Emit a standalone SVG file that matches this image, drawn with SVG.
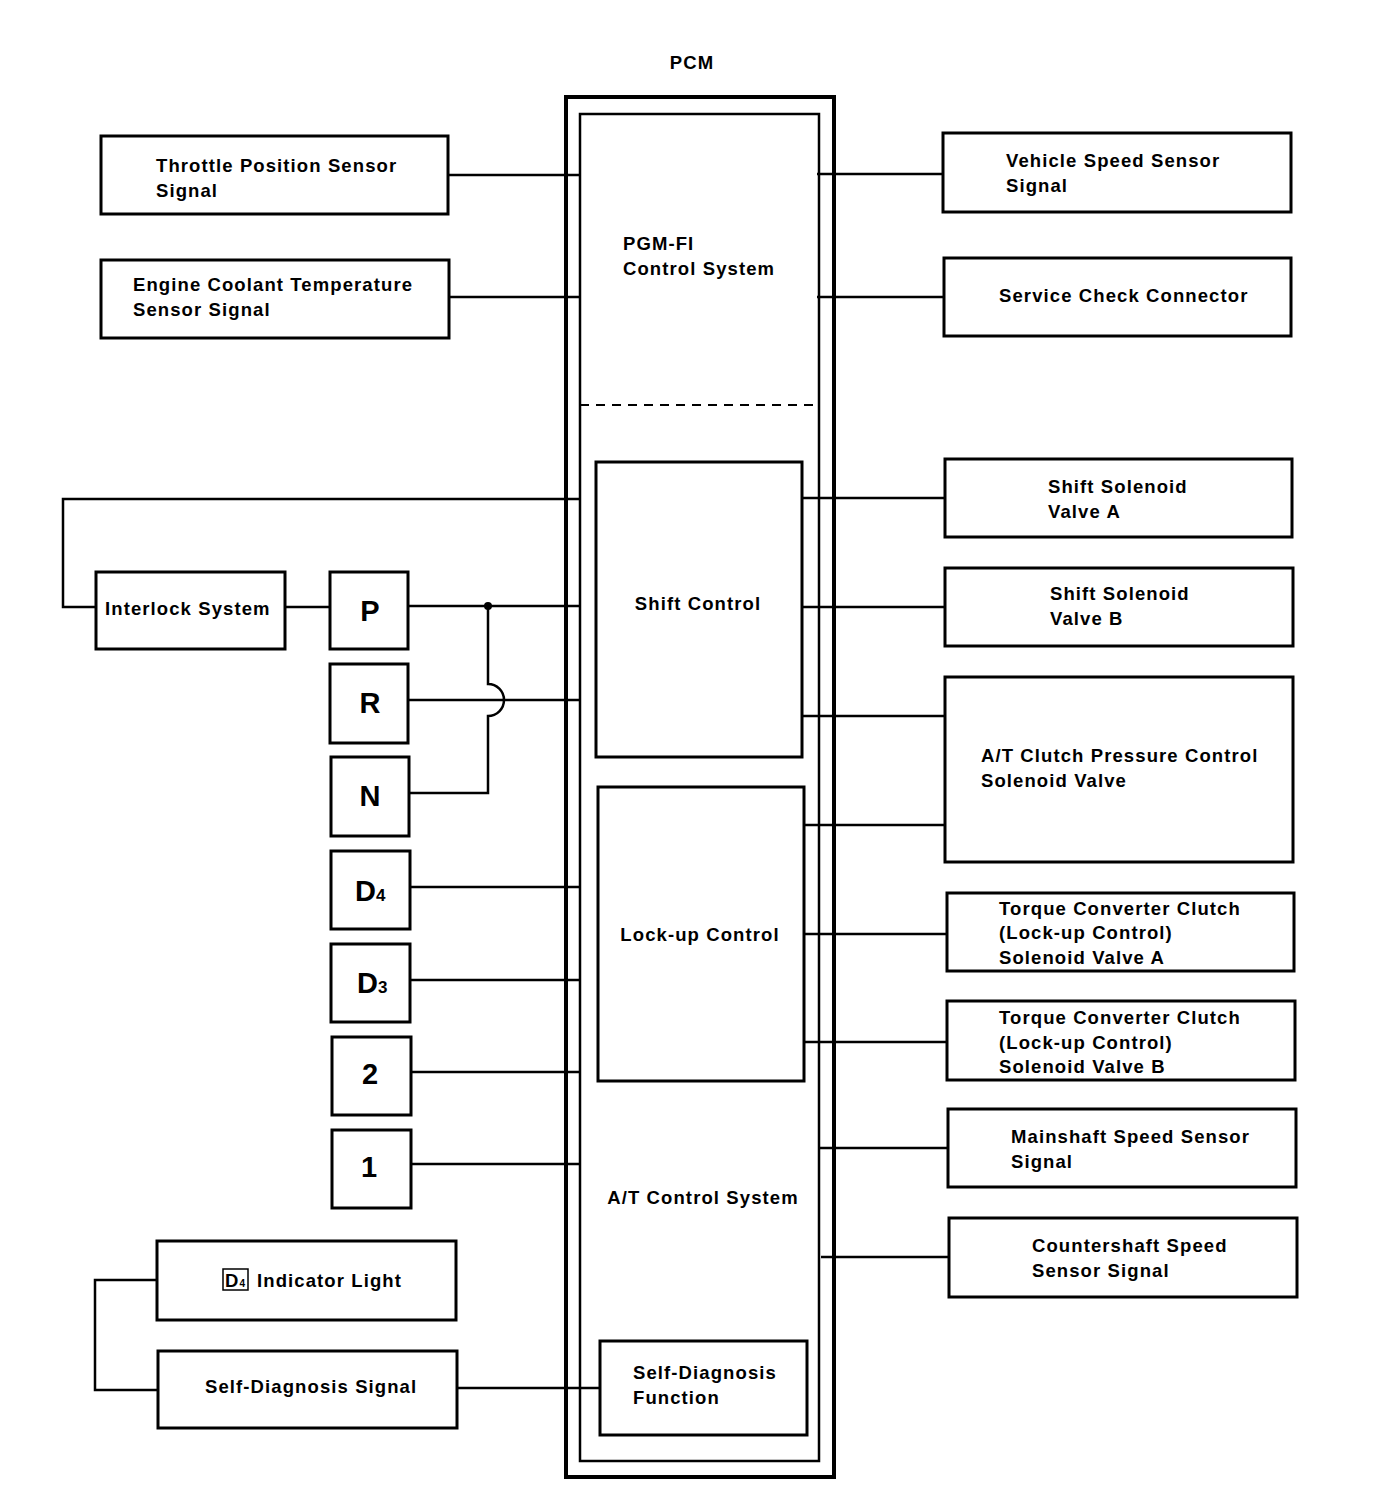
<svg xmlns="http://www.w3.org/2000/svg" width="1376" height="1510" viewBox="0 0 1376 1510">
<style>
.box{fill:#fff;stroke:#000;stroke-width:3}
.in{fill:none;stroke:#000;stroke-width:2.5}
.ln{fill:none;stroke:#000;stroke-width:2.5}
text{font-family:"Liberation Sans",Arial,sans-serif;font-weight:bold;font-size:18.5px;letter-spacing:1.1px;fill:#000}
.big{font-size:29px;letter-spacing:0}
.mid{text-anchor:middle}
</style>
<rect width="1376" height="1510" fill="#fff"/>
<g id="pcm">
<rect x="566" y="97" width="268" height="1380" fill="#fff" stroke="#000" stroke-width="4"/>
<rect x="580" y="114" width="239" height="1347" class="in"/>
<line x1="580" y1="405" x2="816" y2="405" stroke="#000" stroke-width="2" stroke-dasharray="9,7"/>
<text x="692" y="69" class="mid">PCM</text>
<text x="623" y="250">PGM-FI</text>
<text x="623" y="275">Control System</text>
<text x="703" y="1204" class="mid">A/T Control System</text>
</g>
<g id="shift-control"><rect x="596" y="462" width="206" height="295" class="box"/><text x="698" y="610" class="mid">Shift Control</text></g>
<g id="lockup-control"><rect x="598" y="787" width="206" height="294" class="box"/><text x="700" y="941" class="mid">Lock-up Control</text></g>
<g id="self-diag-func"><rect x="600" y="1341" width="207" height="94" class="box"/><text x="633" y="1379">Self-Diagnosis</text><text x="633" y="1404">Function</text></g>

<g id="connectors">
<path class="ln" d="M448 175H580M449 297H580M285 607H330M96 607H63V499H580"/>
<path class="ln" d="M408 606H580M488 606V684A16 16 0 0 1 488 716V793H409M408 700H580"/>
<path class="ln" d="M410 887H580M410 980H580M411 1072H580M411 1164H580"/>
<path class="ln" d="M157 1280H95V1390H158M457 1388H600"/>
<path class="ln" d="M817 174H943M817 297H944M802 498H945M802 607H945M803 716H945M804 825H945M804 934H947M804 1042H947M819 1148H948M821 1257H949"/>
<circle cx="488" cy="606" r="4"/>
</g>

<g id="tps"><rect x="101" y="136" width="347" height="78" class="box"/><text x="156" y="172">Throttle Position Sensor</text><text x="156" y="197">Signal</text></g>
<g id="ect"><rect x="101" y="260" width="348" height="78" class="box"/><text x="133" y="291">Engine Coolant Temperature</text><text x="133" y="316">Sensor Signal</text></g>
<g id="interlock"><rect x="96" y="572" width="189" height="77" class="box"/><text x="105" y="615">Interlock System</text></g>
<g id="sw-p"><rect x="330" y="572" width="78" height="77" class="box"/><text x="370" y="621" class="big mid">P</text></g>
<g id="sw-r"><rect x="330" y="664" width="78" height="79" class="box"/><text x="370" y="713" class="big mid">R</text></g>
<g id="sw-n"><rect x="331" y="757" width="78" height="79" class="box"/><text x="370" y="806" class="big mid">N</text></g>
<g id="sw-d4"><rect x="331" y="851" width="79" height="78" class="box"/><text x="355" y="901" class="big">D<tspan font-size="17">4</tspan></text></g>
<g id="sw-d3"><rect x="331" y="944" width="79" height="78" class="box"/><text x="357" y="993" class="big">D<tspan font-size="17">3</tspan></text></g>
<g id="sw-2"><rect x="332" y="1037" width="79" height="78" class="box"/><text x="370" y="1084" class="big mid">2</text></g>
<g id="sw-1"><rect x="332" y="1130" width="79" height="78" class="box"/><text x="369" y="1177" class="big mid">1</text></g>
<g id="d4-light"><rect x="157" y="1241" width="299" height="79" class="box"/><rect x="223" y="1269" width="25" height="21" fill="none" stroke="#000" stroke-width="1.5"/><text x="225" y="1287" font-size="17" letter-spacing="0">D<tspan font-size="10">4</tspan></text><text x="257" y="1287">Indicator Light</text></g>
<g id="self-diag-signal"><rect x="158" y="1351" width="299" height="77" class="box"/><text x="205" y="1393">Self-Diagnosis Signal</text></g>

<g id="vss"><rect x="943" y="133" width="348" height="79" class="box"/><text x="1006" y="167">Vehicle Speed Sensor</text><text x="1006" y="192">Signal</text></g>
<g id="scc"><rect x="944" y="258" width="347" height="78" class="box"/><text x="999" y="302">Service Check Connector</text></g>
<g id="ssa"><rect x="945" y="459" width="347" height="78" class="box"/><text x="1048" y="493">Shift Solenoid</text><text x="1048" y="518">Valve A</text></g>
<g id="ssb"><rect x="945" y="568" width="348" height="78" class="box"/><text x="1050" y="600">Shift Solenoid</text><text x="1050" y="625">Valve B</text></g>
<g id="atcp"><rect x="945" y="677" width="348" height="185" class="box"/><text x="981" y="762">A/T Clutch Pressure Control</text><text x="981" y="787">Solenoid Valve</text></g>
<g id="tcca"><rect x="947" y="893" width="347" height="78" class="box"/><text x="999" y="915">Torque Converter Clutch</text><text x="999" y="939">(Lock-up Control)</text><text x="999" y="964">Solenoid Valve A</text></g>
<g id="tccb"><rect x="947" y="1001" width="348" height="79" class="box"/><text x="999" y="1024">Torque Converter Clutch</text><text x="999" y="1049">(Lock-up Control)</text><text x="999" y="1073">Solenoid Valve B</text></g>
<g id="mss"><rect x="948" y="1109" width="348" height="78" class="box"/><text x="1011" y="1143">Mainshaft Speed Sensor</text><text x="1011" y="1168">Signal</text></g>
<g id="css"><rect x="949" y="1218" width="348" height="79" class="box"/><text x="1032" y="1252">Countershaft Speed</text><text x="1032" y="1277">Sensor Signal</text></g>
</svg>
